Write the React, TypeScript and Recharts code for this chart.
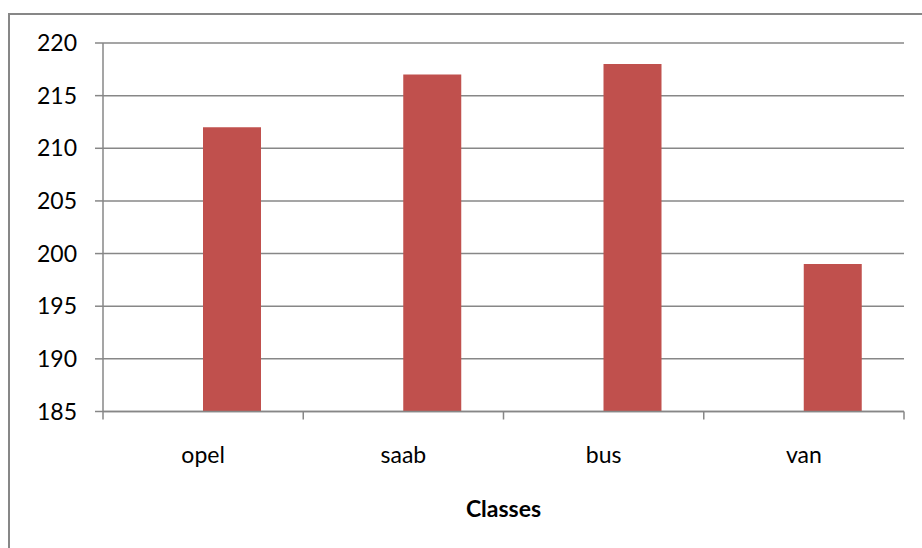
import React from "react";
import { BarChart, Bar, XAxis, YAxis, CartesianGrid } from "recharts";

const classes = ["opel", "saab", "bus", "van"];
const emptySeries = [null, null, null, null];
const counts = [212, 217, 218, 199];
const yTicks = [185, 190, 195, 200, 205, 210, 215, 220];

const data = classes.map((name, i) => ({
  name,
  empty: emptySeries[i],
  count: counts[i],
}));

const gray = "#878787";
const font = "Lato, 'Open Sans', sans-serif";

const ClassTick = (props: any) => {
  const { x, y, payload, index } = props;
  const half = payload && payload.offset ? payload.offset : 100;
  return (
    <g>
      <line x1={x - half} x2={x - half} y1={y} y2={y + 8} stroke={gray} strokeWidth={1.5} />
      {index === classes.length - 1 && (
        <line x1={x + half} x2={x + half} y1={y} y2={y + 8} stroke={gray} strokeWidth={1.5} />
      )}
      <text x={x} y={y + 51.5} textAnchor="middle" fill="#000" fontSize={23} fontFamily={font}>
        {payload.value}
      </text>
    </g>
  );
};

export default function App() {
  return (
    <div
      style={{
        position: "absolute",
        left: 0,
        top: 0,
        width: 922,
        height: 548,
        overflow: "hidden",
        background: "#fff",
      }}
    >
      <div
        style={{
          position: "absolute",
          left: 7.5,
          top: 13,
          width: 1000,
          height: 1000,
          borderLeft: `2px solid ${gray}`,
          borderTop: `2px solid ${gray}`,
        }}
      />
      <div style={{ position: "absolute", left: 0, top: 0 }}>
        <BarChart
          width={922}
          height={548}
          data={data}
          margin={{ top: 43, right: 18, bottom: 26.5, left: 0 }}
          barGap={0}
          barSize={58}
        >
          <CartesianGrid vertical={false} stroke={gray} strokeWidth={1.5} />
          <XAxis
            dataKey="name"
            height={110}
            tickSize={0}
            tickMargin={0}
            tickLine={false}
            axisLine={{ stroke: gray, strokeWidth: 1.5 }}
            tick={<ClassTick />}
            interval={0}
            label={{
              value: "Classes",
              position: "insideBottom",
              offset: 4.5,
              fill: "#000",
              fontSize: 23,
              fontWeight: "bold",
              fontFamily: font,
            }}
          />
          <YAxis
            width={103}
            domain={[185, 220]}
            ticks={yTicks}
            interval={0}
            tickSize={8}
            tickMargin={18}
            tickLine={{ stroke: gray, strokeWidth: 1.5 }}
            axisLine={{ stroke: gray, strokeWidth: 1.5 }}
            tick={{ fill: "#000", fontSize: 23, fontFamily: font }}
          />
          <Bar dataKey="empty" fill="transparent" isAnimationActive={false} />
          <Bar dataKey="count" fill="#C0504D" isAnimationActive={false} />
        </BarChart>
      </div>
    </div>
  );
}
